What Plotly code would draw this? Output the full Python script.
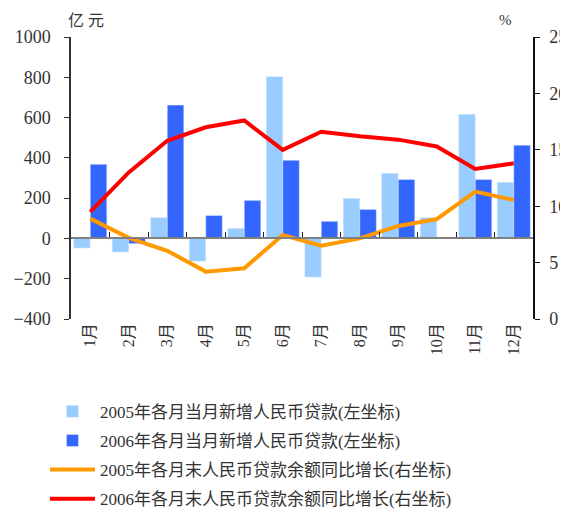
import plotly.graph_objects as go

months = ["1月", "2月", "3月", "4月", "5月", "6月", "7月", "8月", "9月", "10月", "11月", "12月"]
new_loans_2005 = [-48, -68, 104, -113, 50, 803, -192, 199, 323, 103, 617, 279]
new_loans_2006 = [368, -26, 662, 114, 189, 388, 85, 144, 293, 0, 293, 463]
growth_2005 = [8.9, 7.2, 6.05, 4.2, 4.5, 7.45, 6.5, 7.15, 8.25, 8.85, 11.3, 10.55]
growth_2006 = [9.5, 13.0, 15.8, 17.0, 17.6, 15.0, 16.6, 16.2, 15.9, 15.3, 13.3, 13.8]

names = [
    "2005年各月当月新增人民币贷款(左坐标)",
    "2006年各月当月新增人民币贷款(左坐标)",
    "2005年各月末人民币贷款余额同比增长(右坐标)",
    "2006年各月末人民币贷款余额同比增长(右坐标)",
]

FONT = "Liberation Serif, Noto Sans CJK SC, serif"
TXT = "#333333"

fig = go.Figure()
fig.add_trace(go.Bar(x=months, y=new_loans_2005, name=names[0], marker_color="#99CCFF",
                     legendgroup="a", yaxis="y"))
fig.add_trace(go.Bar(x=months, y=new_loans_2006, name=names[1], marker_color="#3366FF",
                     legendgroup="b", yaxis="y"))
fig.add_trace(go.Scatter(x=months, y=growth_2005, name=names[2], mode="lines",
                         line=dict(color="#FF9900", width=4), legendgroup="c", yaxis="y2"))
fig.add_trace(go.Scatter(x=months, y=growth_2006, name=names[3], mode="lines",
                         line=dict(color="#FF0000", width=4), legendgroup="d", yaxis="y2"))

# page has an 8px body margin, so the figure is drawn at (8, 8)
fig.update_layout(
    width=560, height=505,
    margin=dict(l=63, r=35, t=29, b=194, autoexpand=False),
    plot_bgcolor="white", paper_bgcolor="white",
    barmode="group", bargap=0.14, bargroupgap=0,
    font=dict(family=FONT, size=15, color=TXT),
    showlegend=True,
    legend=dict(xref="container", yref="container", x=0.066, y=0.236,
                xanchor="left", yanchor="top",
                traceorder="grouped", tracegroupgap=4,
                font=dict(family=FONT, size=17, color=TXT),
                itemwidth=45, bgcolor="rgba(0,0,0,0)"),
    xaxis=dict(type="category", categoryarray=months, range=[-0.5, 11.5],
               showline=False, ticks="", tickangle=-90,
               tickfont=dict(family=FONT, size=16, color=TXT), showgrid=False),
    xaxis2=dict(type="category", categoryarray=months, range=[-0.5, 11.5],
                overlaying="x", anchor="free", position=0.287, side="bottom",
                showline=True, linecolor="#808080", linewidth=2,
                ticks="inside", ticklen=5, tickcolor="#222", tickson="boundaries",
                showticklabels=False, showgrid=False),
    yaxis=dict(range=[-400, 1000], dtick=200, showgrid=False, zeroline=False,
               showline=True, linecolor="#333", linewidth=1.5,
               ticks="outside", ticklen=5, tickcolor="#333", ticklabelstandoff=10,
               tickfont=dict(family=FONT, size=18, color=TXT)),
    yaxis2=dict(range=[0, 25], dtick=5, overlaying="y", side="right",
                showgrid=False, zeroline=False,
                showline=True, linecolor="#111", linewidth=1.5,
                ticks="outside", ticklen=5, tickcolor="#111", ticklabelstandoff=6,
                tickfont=dict(family=FONT, size=18, color=TXT)),
    annotations=[
        dict(text="亿 元", xref="paper", yref="paper", x=-0.01, y=1.06,
             xanchor="left", yanchor="middle", showarrow=False,
             font=dict(family=FONT, size=16, color=TXT)),
        dict(text="%", xref="paper", yref="paper", x=0.94, y=1.06,
             xanchor="center", yanchor="middle", showarrow=False,
             font=dict(family=FONT, size=15, color=TXT)),
    ],
)
# invisible trace on xaxis2 so the axis renders
fig.add_trace(go.Scatter(x=months, y=[None] * 12, xaxis="x2", yaxis="y",
                         showlegend=False, hoverinfo="skip"))

fig.write_html("out.html")
